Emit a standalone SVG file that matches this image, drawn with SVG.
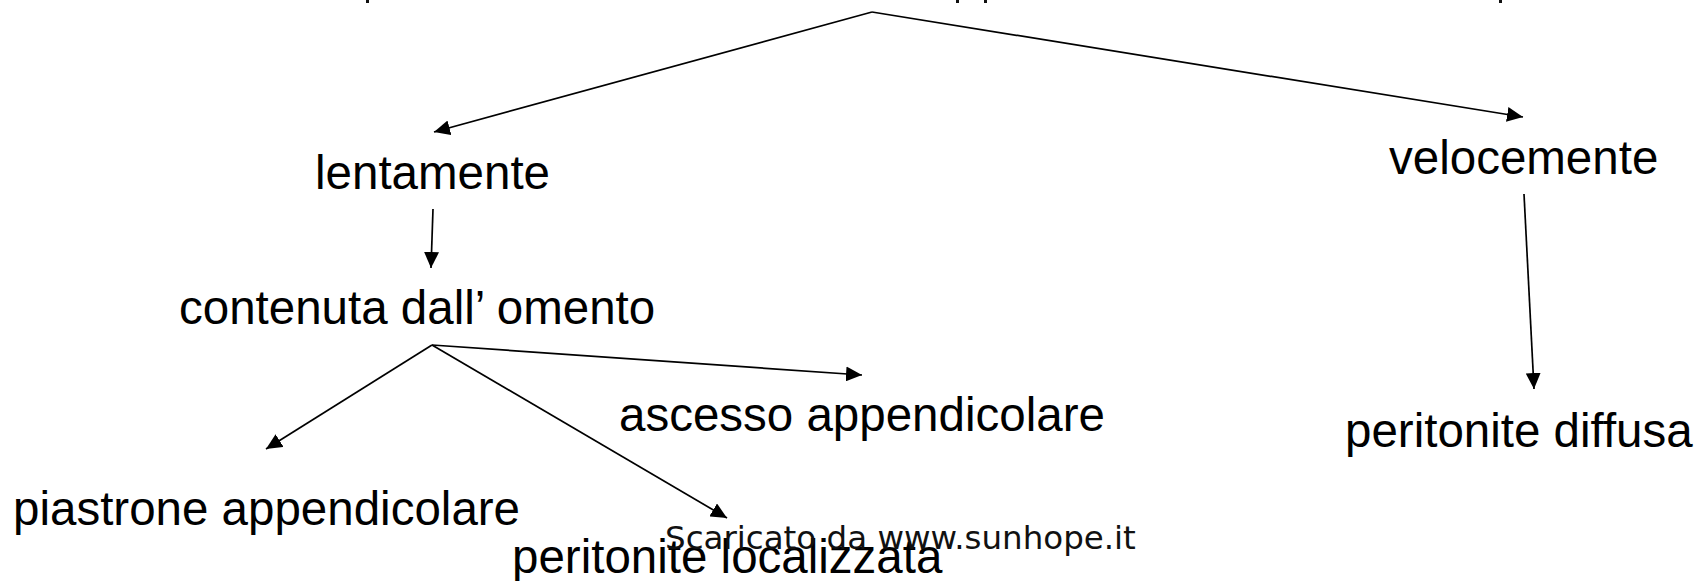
<svg xmlns="http://www.w3.org/2000/svg" width="1701" height="581" viewBox="0 0 1701 581">
  <style>
    .label { font-family: "Liberation Sans", Arial, sans-serif; font-size: 47.5px; fill: #000; }
    .mark { font-family: "DejaVu Sans", Verdana, sans-serif; font-size: 32.5px; fill: #111; }
    .edge { stroke: #000; stroke-width: 1.7; fill: none; marker-end: url(#head); }
    .stub { fill: #111; }
  </style>
  <defs>
    <marker id="head" markerUnits="userSpaceOnUse" markerWidth="17" markerHeight="15" refX="16" refY="7.5" orient="auto">
      <path d="M0,0 L16,7.5 L0,15 Z" fill="#000"/>
    </marker>
  </defs>
  <rect width="1701" height="581" fill="#fff"/>

  <!-- descenders of the heading line running off the top edge -->
  <g id="heading-stubs">
    <rect class="stub" x="366" y="0" width="3" height="3"/>
    <rect class="stub" x="956" y="0" width="3" height="3"/>
    <rect class="stub" x="984" y="0" width="3" height="3"/>
    <rect class="stub" x="1499" y="0" width="3" height="3"/>
  </g>

  <g id="connectors">
    <line class="edge" x1="872" y1="12" x2="434" y2="132"/>
    <line class="edge" x1="872" y1="12" x2="1523" y2="117"/>
    <line class="edge" x1="433" y1="209" x2="431" y2="268"/>
    <line class="edge" x1="432" y1="345" x2="862" y2="375"/>
    <line class="edge" x1="432" y1="345" x2="266" y2="449"/>
    <line class="edge" x1="432" y1="345" x2="727" y2="518"/>
    <line class="edge" x1="1524" y1="194" x2="1534" y2="389"/>
  </g>

  <g id="lentamente"><text class="label" x="315" y="189">lentamente</text></g>
  <g id="velocemente"><text class="label" x="1389" y="174">velocemente</text></g>
  <g id="contenuta"><text class="label" x="179" y="324" font-size="48">contenuta dall’ omento</text></g>
  <g id="ascesso"><text class="label" x="619" y="431">ascesso appendicolare</text></g>
  <g id="piastrone"><text class="label" x="13" y="525">piastrone appendicolare</text></g>
  <g id="peritonite-localizzata"><text class="label" x="512" y="573">peritonite localizzata</text></g>
  <g id="peritonite-diffusa"><text class="label" x="1345" y="447">peritonite diffusa</text></g>

  <g id="watermark"><text class="mark" x="665" y="549">Scaricato da www.sunhope.it</text></g>
</svg>
